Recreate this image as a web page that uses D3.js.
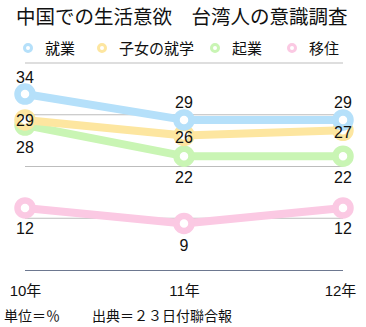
<!DOCTYPE html>
<html><head><meta charset="utf-8">
<script src="https://cdn.jsdelivr.net/npm/d3@7/dist/d3.min.js"></script>
<style>body{margin:0;background:#fff}svg{display:block}text{font-family:"Liberation Sans","Noto Sans CJK JP",sans-serif;fill:#111}</style>
</head><body><svg id="c" width="366" height="327"></svg>
<script>
const years = ["10年","11年","12年"];
const seriesNames = ["就業","子女の就学","起業","移住"];
const seriesColors = ["#b5e0fa","#fde6a0","#c9f5b4","#fbc9e3"];
const jobs = [34,29,29];
const children = [29,26,27];
const startup = [28,22,22];
const migrate = [12,9,12];
const yTicks = [0,10,20,30,40];
const title = "中国での生活意欲　台湾人の意識調査";
const unitNote = "単位＝％";
const sourceNote = "出典＝２３日付聯合報";

const series = [
  {name:seriesNames[0], color:seriesColors[0], values:jobs, dy:[-17,-18,-18]},
  {name:seriesNames[1], color:seriesColors[1], values:children, dy:[0,2,2]},
  {name:seriesNames[2], color:seriesColors[2], values:startup, dy:[22,21,21]},
  {name:seriesNames[3], color:seriesColors[3], values:migrate, dy:[20,22,20]}
];

const svg = d3.select("#c");
const x = d3.scalePoint().domain(years).range([25,343]);
const y = d3.scaleLinear().domain([0,40]).range([270,63]);

svg.append("text").attr("x",16).attr("y",24).attr("font-size",19.5).text(title);

// legend
const lx = [28,102,215,292];
seriesNames.forEach((n,i)=>{
  svg.append("circle").attr("cx",lx[i]).attr("cy",48).attr("r",3.5)
    .attr("fill","#fff").attr("stroke",seriesColors[i]).attr("stroke-width",3);
  svg.append("text").attr("x",lx[i]+17).attr("y",53.5).attr("font-size",15).text(n);
});

// grid
svg.append("g").selectAll("line").data(yTicks.filter(d=>d>0)).join("line")
  .attr("x1",25).attr("x2",343).attr("y1",d=>y(d)).attr("y2",d=>y(d))
  .attr("stroke","#bdbdbd").attr("stroke-width",1);

// axis
const ax = d3.axisBottom(x).tickSize(0).tickPadding(12);
const g = svg.append("g").attr("transform",`translate(0,${y(0)})`).call(ax);
g.select(".domain").attr("stroke","#6d7890").attr("d","M25,0.5H343");
g.selectAll("text").attr("font-size",15).attr("fill","#111")
  .attr("font-family",'"Liberation Sans","Noto Sans CJK JP",sans-serif')
  .attr("dy","0.9em");
g.selectAll(".tick").filter((d,i)=>i===2).select("text").attr("dx",-3);

const line = d3.line().x((d,i)=>x(years[i])).y(d=>y(d));
const order = [3,2,1,0];
order.forEach(k=>{
  const s = series[k];
  svg.append("path").attr("d",line(s.values)).attr("fill","none")
    .attr("stroke",s.color).attr("stroke-width",8).attr("stroke-linejoin","round");
  svg.append("g").selectAll("circle").data(s.values).join("circle")
    .attr("cx",(d,i)=>x(years[i])).attr("cy",d=>y(d)).attr("r",7.5)
    .attr("fill","#fff").attr("stroke",s.color).attr("stroke-width",6.5);
});
order.forEach(k=>{
  const s = series[k];
  svg.append("g").selectAll("text").data(s.values).join("text")
    .attr("x",(d,i)=>x(years[i])).attr("y",(d,i)=>y(d)+s.dy[i])
    .attr("dy","0.36em").attr("text-anchor","middle").attr("font-size",16).text(d=>d);
});

svg.append("text").attr("x",4).attr("y",321).attr("font-size",14).text(unitNote);
svg.append("text").attr("x",92).attr("y",321).attr("font-size",14).text(sourceNote);
</script></body></html>
